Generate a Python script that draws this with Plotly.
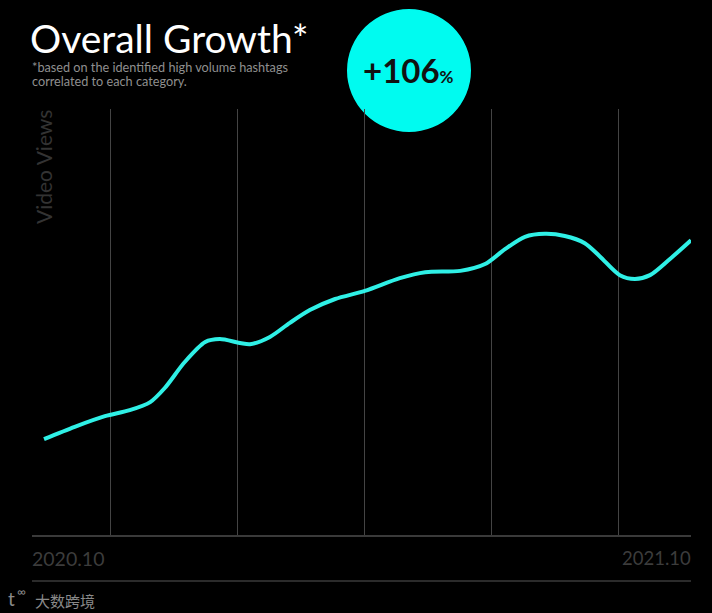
import plotly.graph_objects as go

months = [0, 0.57, 1.13, 1.59, 1.97, 2.24, 2.61, 2.99, 3.26, 3.82, 4.19, 4.56, 4.93, 5.40, 5.95,
          6.60, 7.07, 7.72, 8.18, 8.55, 8.92, 9.29, 9.66, 10.03, 10.31, 10.68, 10.96, 11.24, 11.61, 12]
video_views = [22.5, 25.4, 27.9, 29.3, 31.2, 34.5, 40.6, 45.3, 46.0, 44.8, 46.5, 49.8, 52.8, 55.4, 57.3,
               60.3, 61.7, 62.0, 63.6, 67.1, 70.0, 70.7, 70.2, 68.5, 65.4, 61.0, 60.1, 61.0, 64.8, 69.2]
grid_months = [1.234, 3.59, 5.945, 8.30, 10.655]
W, H = 712, 613
L, R, T, B = 32, 691, 109, 535
FONT = "Lato"

def px(x):
    return (x - L) / (R - L)

def py(y):
    return (B - y) / (B - T)

fig = go.Figure(go.Scatter(
    x=months, y=video_views, mode="lines",
    line=dict(color="#2ff0e6", width=4, shape="spline", smoothing=0.8),
    hoverinfo="skip", showlegend=False, cliponaxis=False,
))

def note(text, x, y, size, color, xanchor="left", family=FONT, **kw):
    return dict(text=text, x=px(x), y=py(y), xref="paper", yref="paper", xanchor=xanchor, yanchor="middle",
                showarrow=False, font=dict(size=size, color=color, family=family), **kw)

fig.update_layout(
    width=W, height=H, autosize=False,
    paper_bgcolor="#000000", plot_bgcolor="rgba(0,0,0,0)",
    margin=dict(l=L, r=W - R, t=T, b=H - B),
    font=dict(family=FONT, color="#ffffff"),
    xaxis=dict(range=[-0.2225, 12], tickmode="array", tickvals=grid_months, showticklabels=False,
               showgrid=True, gridcolor="#444444", gridwidth=1, zeroline=False,
               showline=True, linecolor="#3a3a3a", linewidth=1.5, ticks=""),
    yaxis=dict(range=[0, 100], showticklabels=False, showgrid=False, zeroline=False,
               showline=False, ticks=""),
    shapes=[
        dict(type="circle", xref="paper", yref="paper", layer="below",
             x0=px(347), x1=px(471), y0=py(132), y1=py(9),
             fillcolor="#00fbf0", line=dict(width=0)),
        dict(type="line", xref="paper", yref="paper", x0=px(32), x1=px(691), y0=py(581), y1=py(581),
             line=dict(color="#3a3a3a", width=1.5)),
    ],
    annotations=[
        note("Overall Growth*", 28, 38, 39, "#ffffff"),
        note("*based on the identified high volume hashtags", 30, 67, 12.7, "#8f8f8f"),
        note("correlated to each category.", 30, 81, 12.7, "#8f8f8f"),
        note("<b>+106</b><span style='font-size:17px'><b>%</b></span>", 408.5, 70, 33, "#111111", xanchor="center"),
        note("Video Views", 43, 167, 21, "#333333", xanchor="center", textangle=-90),
        note("2020.10", 30, 558, 19.5, "#3c3c3c"),
        note("2021.10", 693, 558, 18.5, "#3c3c3c", xanchor="right"),
        note("t", 6, 598, 19, "#8a8a8a"),
        note("∞", 15, 591, 12, "#8a8a8a"),
        note("大数跨境", 33, 600, 15, "#8a8a8a", family="Noto Sans CJK SC"),
    ],
)
fig.write_html("out.html", config={"displayModeBar": False},
               post_script="document.body.style.margin='0';document.body.style.background='#000';document.documentElement.style.overflow='hidden';")
